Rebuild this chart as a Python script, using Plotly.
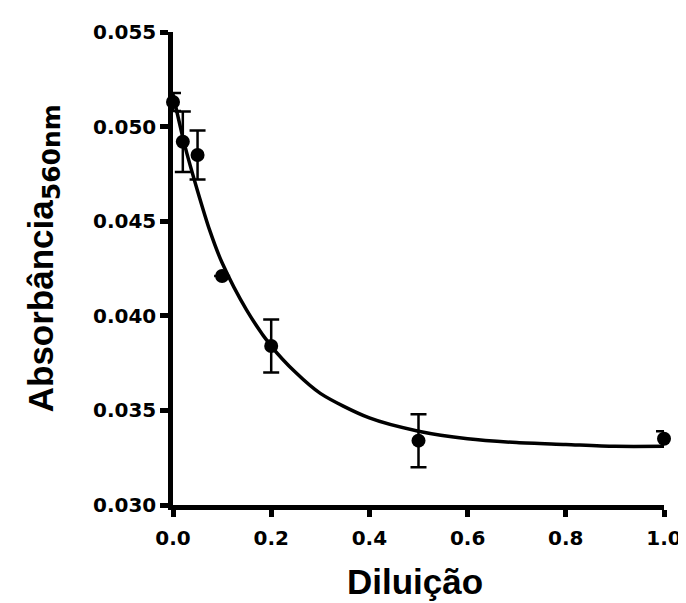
import plotly.graph_objects as go

# Measured points
diluicao = [0.0, 0.02, 0.05, 0.1, 0.2, 0.5, 1.0]
absorbancia = [0.0513, 0.0492, 0.0485, 0.0421, 0.0384, 0.0334, 0.0335]
erro = [0.00048, 0.0016, 0.0013, None, 0.0014, 0.0014, 0.0004]

# Fitted curve
curva_x = [0.0, 0.025, 0.05, 0.075, 0.1, 0.15, 0.2, 0.25, 0.3, 0.4, 0.5, 0.6, 0.7, 0.8, 0.9, 1.0]
curva_y = [0.0517, 0.0489, 0.0466, 0.0445, 0.0428, 0.0403, 0.0384, 0.0370, 0.0359, 0.0346,
           0.0339, 0.0335, 0.0333, 0.0332, 0.0331, 0.0331]

x_ticks = [0.0, 0.2, 0.4, 0.6, 0.8, 1.0]
x_ticklabels = ["0.0", "0.2", "0.4", "0.6", "0.8", "1.0"]
y_ticks = [0.030, 0.035, 0.040, 0.045, 0.050, 0.055]
y_ticklabels = ["0.030", "0.035", "0.040", "0.045", "0.050", "0.055"]

FONT = "Liberation Sans, Arial, sans-serif"
TICKFONT = "DejaVu Sans, sans-serif"

fig = go.Figure()
fig.add_trace(go.Scatter(
    x=curva_x, y=curva_y, mode="lines",
    line=dict(color="black", width=3.5, shape="spline", smoothing=0.8),
    cliponaxis=False, showlegend=False, hoverinfo="skip"))
fig.add_trace(go.Scatter(
    x=diluicao, y=absorbancia, mode="markers",
    marker=dict(color="black", size=14, symbol="circle"),
    error_y=dict(type="data", array=erro, visible=True, color="black",
                 thickness=2.5, width=8),
    cliponaxis=False, showlegend=False))

W, H = 686, 603
L, R, T, B = 165, 18, 20, 106
pw, ph = W - L - R, H - T - B

fig.update_layout(
    width=W, height=H,
    margin=dict(l=L, r=R, t=T, b=B),
    plot_bgcolor="white", paper_bgcolor="white",
    font=dict(family=FONT, color="black"),
    xaxis=dict(range=[0, 1], tickvals=x_ticks, ticktext=x_ticklabels,
               showgrid=False, zeroline=False, showline=True, linecolor="black",
               linewidth=4.5, ticks="outside", ticklen=7, tickwidth=4.5,
               tickcolor="black", ticklabelstandoff=4,
               tickfont=dict(family=TICKFONT, size=20, weight="bold", color="black")),
    yaxis=dict(range=[0.030, 0.055], tickvals=y_ticks, ticktext=y_ticklabels,
               showgrid=False, zeroline=False, showline=True, linecolor="black",
               linewidth=4.5, ticks="outside", ticklen=8, tickwidth=4.5,
               tickcolor="black", ticklabelstandoff=0,
               tickfont=dict(family=TICKFONT, size=20, weight="bold", color="black")),
    annotations=[
        dict(text="Diluição", xref="paper", yref="paper",
             x=(413 - L) / pw, y=(H - B - 574) / ph, xanchor="center", yanchor="middle",
             showarrow=False, font=dict(family=FONT, size=35, weight="bold", color="black")),
        dict(text="Absorbância<sub><span style='font-family:DejaVu Sans;font-size:25px'>560nm</span></sub>",
             xref="paper", yref="paper",
             x=(32 - L) / pw, y=(H - B - 248) / ph, xanchor="center", yanchor="middle",
             textangle=-90, showarrow=False,
             font=dict(family=FONT, size=35, weight="bold", color="black")),
    ],
)

fig.write_html("out.html")
